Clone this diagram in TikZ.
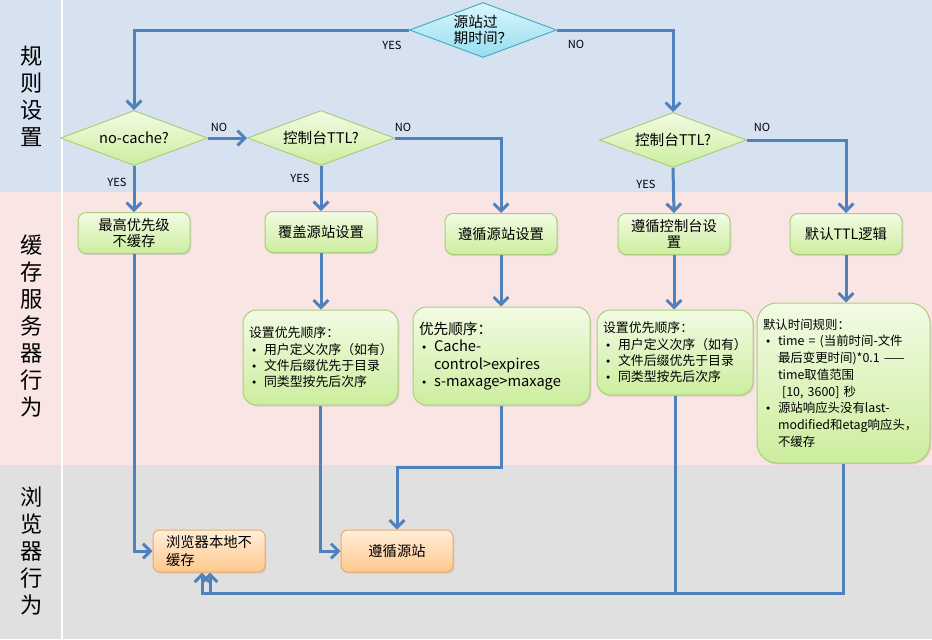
\documentclass[tikz,border=0pt]{standalone}
\usepackage{fontspec}
\setmainfont{Noto Sans CJK SC}
\newfontfamily\symfont{DejaVu Sans}
\usetikzlibrary{shapes.geometric,arrows.meta,shadows}

\definecolor{bandtop}{RGB}{214,226,240}
\definecolor{bandmid}{RGB}{250,229,229}
\definecolor{bandbot}{RGB}{224,224,224}
\definecolor{flowblue}{RGB}{79,129,189}
\definecolor{greentop}{RGB}{242,251,228}
\definecolor{greenbot}{RGB}{204,238,158}
\definecolor{greenline}{RGB}{172,206,122}
\definecolor{orangetop}{RGB}{255,238,218}
\definecolor{orangebot}{RGB}{255,200,140}
\definecolor{orangeline}{RGB}{238,170,100}
\definecolor{cyantop}{RGB}{218,246,252}
\definecolor{cyanbot}{RGB}{150,222,240}
\definecolor{cyanline}{RGB}{75,172,198}

\newcommand{\bul}{\hspace*{0.6mm}\makebox[3.9mm][l]{{\symfont\small •}}}
\newcommand{\ind}{\hspace*{4.5mm}}

\tikzset{
  flow/.style={draw=flowblue, line width=0.9mm, -{Straight Barb[length=2.2mm,width=4.4mm]}},
  lane/.style={align=center, font=\fontsize{19}{23}\selectfont},
  tag/.style={font=\fontsize{9.5}{11}\selectfont},
  ask/.style={diamond, aspect=2.7, inner sep=0pt, minimum width=44.1mm, minimum height=16.5mm,
    top color=greentop, bottom color=greenbot, draw=greenline, line width=0.3mm,
    font=\fontsize{12.5}{14}\selectfont},
  stepbox/.style={rounded corners=2.4mm, minimum width=33.6mm, minimum height=12.3mm, align=center,
    top color=greentop, bottom color=greenbot, draw=greenline, line width=0.3mm,
    drop shadow={shadow xshift=0.4mm, shadow yshift=-0.5mm, opacity=0.2},
    font=\fontsize{12.2}{13.7}\selectfont},
  rulebox/.style={rounded corners=4mm, align=left, inner xsep=1.8mm,
    top color=greentop, bottom color=greenbot, draw=greenline, line width=0.3mm,
    drop shadow={shadow xshift=0.4mm, shadow yshift=-0.5mm, opacity=0.2},
    font=\fontsize{11}{13.9}\selectfont},
  endbox/.style={rounded corners=2mm, minimum width=33.6mm, minimum height=12.6mm, align=left,
    top color=orangetop, bottom color=orangebot, draw=orangeline, line width=0.3mm,
    drop shadow={shadow xshift=0.4mm, shadow yshift=-0.5mm, opacity=0.2},
    font=\fontsize{12.2}{15.4}\selectfont}
}

\begin{document}
\begin{tikzpicture}[x=0.3mm, y=-0.3mm]
    \useasboundingbox (0,0) rectangle (932,639);
    % lanes
    \fill[bandtop] (0,0) rectangle (932,192);
    \fill[bandmid] (0,192) rectangle (932,465);
    \fill[bandbot] (0,465) rectangle (932,639);
    \draw[white, line width=0.6mm] (62,0) -- (62,639);
    \node[lane] (laneA) at (32,96) {规\\则\\设\\置};
    \node[lane] (laneB) at (32,326) {缓\\存\\服\\务\\器\\行\\为};
    \node[lane] (laneC) at (32,551) {浏\\览\\器\\行\\为};

    % decisions
    \node[ask, top color=cyantop, bottom color=cyanbot, draw=cyanline, align=left] (d0) at (483,30) {源站过\\期时间？};
    \node[ask] (d1) at (134,138) {no-cache?};
    \node[ask] (d2) at (321,138) {控制台TTL?};
    \node[ask] (d3) at (673,140) {控制台TTL?};

    % cache server
    \node[stepbox] (b1) at (134,233) {最高优先级\\不缓存};
    \node[stepbox] (b2) at (321,232) {覆盖源站设置};
    \node[stepbox] (b3) at (501,234) {遵循源站设置};
    \node[stepbox] (b4) at (674,234) {遵循控制台设\\置};
    \node[stepbox] (b5) at (846,234) {默认TTL逻辑};

    \node[rulebox, minimum width=46.5mm, minimum height=28.5mm, text width=42.9mm] (l1) at (320.5,357.5)
        {设置优先顺序：\\ \bul 用户定义次序（如有）\\ \bul 文件后缀优先于目录\\ \bul 同类型按先后次序};
    \node[rulebox, minimum width=53.1mm, minimum height=29.4mm, text width=49.5mm, font=\fontsize{12.5}{15}\selectfont] (l2) at (501.5,356)
        {优先顺序：\\ \bul Cache-\\ \ind control>expires\\ \bul s-maxage>maxage};
    \node[rulebox, minimum width=46.8mm, minimum height=25.5mm, text width=43.2mm] (l3) at (675,352.5)
        {设置优先顺序：\\ \bul 用户定义次序（如有）\\ \bul 文件后缀优先于目录\\ \bul 同类型按先后次序};
    \node[rulebox, rounded corners=6mm, minimum width=51.9mm, minimum height=48mm, text width=48.3mm, font=\fontsize{10.6}{14.3}\selectfont] (l4) at (843.5,383)
        {默认时间规则：\\ \bul time = (当前时间-文件\\ \ind 最后变更时间)*0.1 ——\\ \ind time取值范围\\ \ind\ [10, 3600] 秒\\ \bul 源站响应头没有last-\\ \ind modified和etag响应头，\\ \ind 不缓存};

    % browser
    \node[endbox] (o1) at (209,551) {浏览器本地不\\缓存};
    \node[endbox, align=center] (o2) at (397,551) {遵循源站};

    % connectors
    \draw[flow] (d0.west) -| (d1.north);
    \draw[flow] (d0.east) -| (d3.north);
    \draw[flow] (d1.east) -- (d2.west);
    \draw[flow] (d2.east) -| (b3.north);
    \draw[flow] (d3.east) -| (b5.north);
    \draw[flow] (d1.south) -- (b1.north);
    \draw[flow] (d2.south) -- (b2.north);
    \draw[flow] (d3.south) -- (b4.north);
    \draw[flow] (b2.south) -- (l1.north -| b2.south);
    \draw[flow] (b3.south) -- (l2.north -| b3.south);
    \draw[flow] (b4.south) -- (l3.north -| b4.south);
    \draw[flow] (b5.south) -- (l4.north -| b5.south);
    \draw[flow] (b1.south) |- (o1.west);
    \draw[flow] (l1.south) |- (o2.west);
    \coordinate (k1) at (397,467);
    \draw[flow] (l2.south) |- (k1) -- (o2.north);
    \coordinate (j1) at (210,593);
    \coordinate (j2) at (202,593);
    \draw[flow] (l3.south) |- (j1) -- (j1 |- o1.south);
    \draw[flow] (l4.south) |- (j2) -- (j2 |- o1.south);

    % answers
    \node[tag] (t1) at (392,45) {YES};
    \node[tag] (t2) at (576,44) {NO};
    \node[tag] (t3) at (219,127) {NO};
    \node[tag] (t4) at (403,127) {NO};
    \node[tag] (t5) at (762,127) {NO};
    \node[tag] (t6) at (117,182) {YES};
    \node[tag] (t7) at (300,178) {YES};
    \node[tag] (t8) at (646,184) {YES};
\end{tikzpicture}
\end{document}
